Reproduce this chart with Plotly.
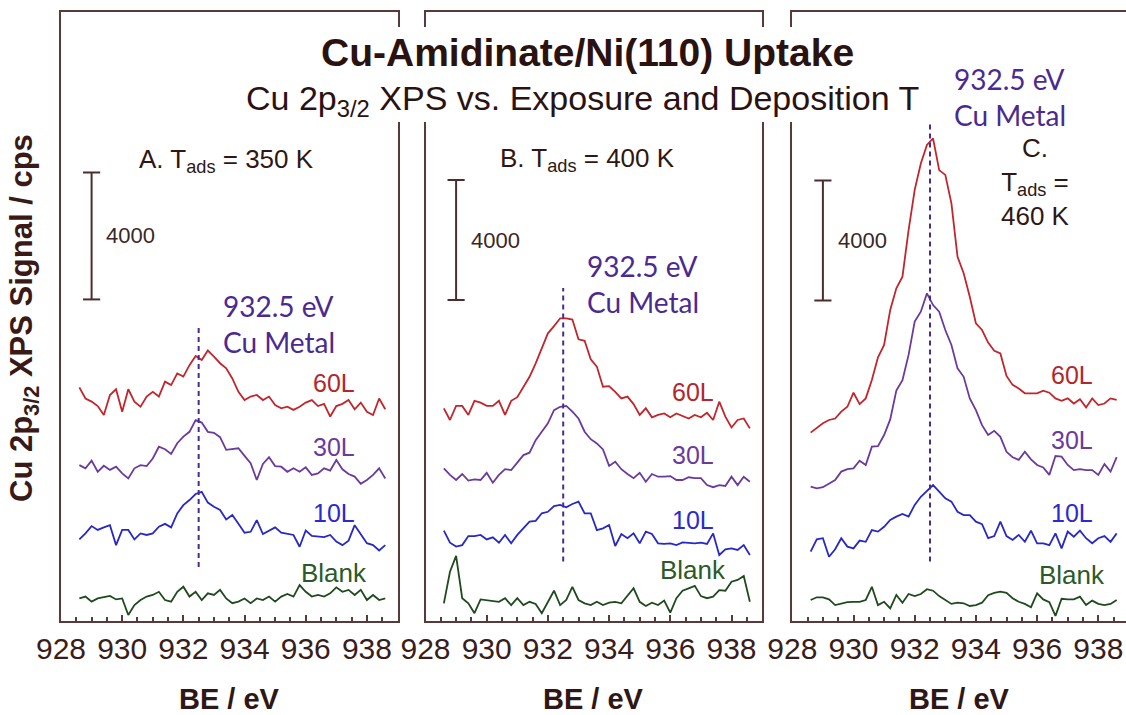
import plotly.graph_objects as go

# ---------------------------------------------------------------------------
# Cu 2p3/2 XPS spectra (binding energy grid, eV) and stacked signals (cps)
# ---------------------------------------------------------------------------
BE = [928.6, 928.8, 929.0, 929.2, 929.4, 929.6, 929.8, 930.0, 930.2, 930.4,
      930.6, 930.8, 931.0, 931.2, 931.4, 931.6, 931.8, 932.0, 932.2, 932.4,
      932.6, 932.8, 933.0, 933.2, 933.4, 933.6, 933.8, 934.0, 934.2, 934.4,
      934.6, 934.8, 935.0, 935.2, 935.4, 935.6, 935.8, 936.0, 936.2, 936.4,
      936.6, 936.8, 937.0, 937.2, 937.4, 937.6, 937.8, 938.0, 938.2, 938.4,
      938.6]

# A. T_ads = 350 K
A_60L = [7360, 7010, 6910, 6770, 6490, 7120, 7300, 6590, 7300, 6910,
         6750, 7070, 7220, 7070, 7540, 7430, 7800, 7700, 8060, 8350,
         8220, 8520, 8330, 8120, 7960, 7640, 7220, 6960, 7070, 7120,
         6960, 7070, 6800, 6700, 6750, 6650, 6750, 6880, 6960, 6770,
         6840, 6440, 6770, 6840, 6960, 6670, 6880, 6590, 6490, 7010,
         6670]
A_30L = [4910, 4810, 5050, 4700, 4890, 4760, 4860, 4650, 4490, 4810,
         4910, 4880, 5120, 5490, 5410, 5260, 5600, 5810, 5960, 6330,
         6250, 5960, 5930, 5790, 5390, 5410, 5440, 5200, 4970, 4440,
         4950, 5160, 4880, 4860, 4700, 4810, 4700, 4840, 4600, 4650,
         4810, 4740, 5070, 4780, 4630, 4550, 4320, 4440, 4600, 4810,
         4490]
A_10L = [2570, 2760, 2990, 2870, 2950, 3020, 2390, 2870, 2870, 2570,
         2760, 2710, 2760, 2970, 3060, 2950, 3390, 3650, 3810, 4000,
         4070, 3730, 3600, 3500, 3200, 3340, 3060, 2780, 2810, 3180,
         2740, 2850, 2950, 2780, 2740, 2710, 2340, 2850, 2680, 2660,
         2640, 2710, 2500, 2390, 2530, 3020, 2740, 2450, 2390, 2220,
         2390]
A_BLANK = [710, 770, 610, 710, 750, 790, 680, 710, 190, 500,
           660, 770, 820, 920, 660, 610, 920, 1080, 770, 920,
           660, 870, 820, 980, 710, 560, 610, 710, 560, 710,
           660, 770, 610, 770, 850, 770, 1130, 920, 770, 820,
           770, 870, 1060, 920, 980, 820, 980, 660, 820, 660,
           710]

# B. T_ads = 400 K
B_60L = [7090, 6700, 7170, 7170, 6870, 7340, 7280, 7170, 7170, 7340,
         6870, 7340, 7460, 7810, 8140, 8590, 9090, 9590, 9830, 10090,
         10090, 10050, 9390, 9340, 8720, 8480, 7810, 7830, 7640, 7420,
         7480, 7230, 6870, 7090, 6790, 6870, 6920, 6790, 6920, 6830,
         6750, 6870, 6790, 6940, 6700, 7310, 6810, 6450, 6700, 6750,
         6420]
B_30L = [5090, 4870, 4700, 4900, 4680, 4720, 4700, 4940, 4610, 4870,
         5060, 5030, 5280, 5530, 5610, 6030, 6310, 6590, 7030, 7140,
         7170, 6980, 6750, 6310, 6060, 5920, 5720, 5170, 5310, 5060,
         4900, 4760, 4940, 4640, 4900, 4810, 4810, 4830, 4700, 4700,
         4790, 4760, 4760, 4530, 4460, 4530, 4500, 4810, 4530, 4810,
         4640]
B_10L = [3010, 2610, 2480, 2530, 2830, 2830, 2870, 2720, 2790, 2610,
         2870, 2590, 2870, 3090, 3310, 3340, 3590, 3640, 3830, 3870,
         3790, 3900, 3980, 3590, 3590, 3030, 3090, 3200, 2500, 2900,
         2760, 2920, 2590, 2980, 2900, 2590, 2570, 2590, 2530, 2620,
         2610, 2590, 2610, 2570, 2920, 2200, 2390, 2420, 2370, 2530,
         2200]
B_BLANK = [590, 1640, 2170, 760, 590, 260, 720, 700, 680, 640,
           760, 530, 760, 530, 640, 570, 260, 640, 1010, 530,
           700, 1140, 700, 590, 530, 640, 530, 610, 640, 590,
           830, 1090, 640, 500, 610, 530, 680, 280, 760, 1010,
           1090, 1170, 830, 760, 810, 1030, 1010, 1310, 1370, 1500,
           640]

# C. T_ads = 460 K
C_60L = [6280, 6450, 6590, 6700, 6750, 6980, 7140, 7610, 7230, 7420,
         8030, 8790, 9200, 10370, 11090, 11480, 13030, 14370, 15250, 15870,
         16090, 15030, 14870, 13920, 12140, 11590, 10810, 9920, 9700, 9280,
         9010, 8920, 8170, 7870, 7750, 7590, 7590, 7590, 7680, 7610,
         7420, 7340, 7420, 7250, 7390, 7120, 7420, 7200, 7250, 7420,
         7370]
C_30L = [4480, 4420, 4460, 4590, 4700, 4980, 5060, 5090, 5340, 5200,
         5810, 5830, 6200, 6720, 7680, 8030, 8870, 9980, 10310, 10920,
         10530, 10310, 9700, 9200, 8420, 8140, 7420, 7030, 6530, 6200,
         6340, 6140, 5640, 5460, 5370, 5640, 5390, 5200, 5120, 4870,
         5500, 5480, 5200, 5030, 5060, 5030, 5030, 4870, 5230, 4980,
         5460]
C_10L = [2310, 2720, 2760, 2140, 2390, 2760, 2480, 2420, 2680, 2640,
         3030, 2980, 3140, 3370, 3480, 3570, 3480, 3870, 4140, 4340,
         4530, 4310, 4090, 3980, 3640, 3530, 3530, 3310, 3230, 2760,
         2830, 3310, 2830, 2700, 2870, 2640, 3010, 2590, 2590, 2530,
         2920, 2420, 2980, 2810, 3010, 2760, 2590, 2760, 2830, 2640,
         2920]
C_BLANK = [700, 790, 790, 720, 530, 570, 630, 640, 640, 700,
           1140, 530, 640, 420, 870, 610, 900, 830, 900, 1060,
           1010, 830, 700, 570, 610, 590, 500, 530, 610, 860,
           940, 980, 940, 760, 640, 570, 460, 920, 720, 630,
           170, 740, 720, 720, 810, 530, 680, 570, 530, 570,
           700]

EXPOSURES = ["60L", "30L", "10L", "Blank"]
TEMPERATURES = [350, 400, 460]
CU_METAL_BE = 932.5
SCALE_CPS = 4000
XTICKS = [928, 930, 932, 934, 936, 938]

# ---------------------------------------------------------------------------
# Styling
# ---------------------------------------------------------------------------
W, H = 1126, 715
SANS = "Liberation Sans, Arial, Helvetica, sans-serif"
HUMANIST = "Lato, Open Sans, sans-serif"
FRAME = "#583a3a"
INK = "#2e1714"
DASH_COLOR = "#4b2a90"
LINE_COLORS = {"60L": "#c0262c", "30L": "#6a3b9c", "10L": "#2828c4", "Blank": "#1e4a1e"}
TEXT_COLORS = {"60L": "#b3262c", "30L": "#6a3b9c", "10L": "#2a2ad0", "Blank": "#2a5a2a"}


def px_x(x):
    return x / W


def px_y(y):
    return 1 - y / H


Y_DOMAIN = [px_y(621), px_y(12)]

panels = [
    dict(letter="A", series=[A_60L, A_30L, A_10L, A_BLANK], dom=(61, 397.5),
         xr=[928, 939], yr=[0, 19184], mirror=True, bar0=10130,
         dash=(1700, 9230), note_y=9370, lab_x=936.92,
         lab_y=[7500, 5480, 3400, 1510], title_xy=(933.42, 14520)),
    dict(letter="B", series=[B_60L, B_30L, B_10L, B_BLANK], dom=(425.5, 762.1),
         xr=[928, 939], yr=[0, 20300], mirror=True, bar0=10700,
         dash=(1980, 11100), note_y=11220, lab_x=936.74,
         lab_y=[7630, 5530, 3370, 1700], title_xy=(933.28, 15370)),
    dict(letter="C", series=[C_60L, C_30L, C_10L, C_BLANK], dom=(792.3, 1126),
         xr=[928, 938.905], yr=[0, 20300], mirror=False, bar0=10680,
         dash=(1980, 16630), note_y=17470, lab_x=937.15,
         lab_y=[8200, 6030, 3600, 1530], title_xy=(935.96, 14630)),
]

fig = go.Figure()
annotations = []
layout_axes = {}

for i, p in enumerate(panels):
    n = "" if i == 0 else str(i + 1)
    xref, yref = "x" + n, "y" + n

    # spectra, bottom (Blank) first
    for name, ys in reversed(list(zip(EXPOSURES, p["series"]))):
        fig.add_trace(go.Scatter(
            x=BE, y=ys, mode="lines", xaxis=xref, yaxis=yref,
            line=dict(color=LINE_COLORS[name], width=1.8), hoverinfo="skip"))

    # Cu metal reference line
    fig.add_trace(go.Scatter(
        x=[CU_METAL_BE, CU_METAL_BE], y=list(p["dash"]), mode="lines",
        xaxis=xref, yaxis=yref,
        line=dict(color=DASH_COLOR, width=2, dash="5px,4px"), hoverinfo="skip"))

    # intensity scale bar
    b0, b1 = p["bar0"], p["bar0"] + SCALE_CPS
    fig.add_trace(go.Scatter(
        x=[928.72, 929.28, None, 929.0, 929.0, None, 928.72, 929.28],
        y=[b0, b0, None, b0, b1, None, b1, b1], mode="lines",
        xaxis=xref, yaxis=yref, line=dict(color="#4a2e2e", width=2),
        hoverinfo="skip"))
    annotations.append(dict(
        x=929.42, y=(b0 + b1) / 2, xref=xref, yref=yref, text=str(SCALE_CPS),
        showarrow=False, xanchor="left", yanchor="middle",
        font=dict(family=SANS, size=22, color="#3a2826")))

    # exposure labels
    for name, ly in zip(EXPOSURES, p["lab_y"]):
        annotations.append(dict(
            x=p["lab_x"], y=ly, xref=xref, yref=yref, text=name,
            showarrow=False, xanchor="center", yanchor="middle",
            font=dict(family=SANS, size=26 if name == "Blank" else 25,
                      color=TEXT_COLORS[name])))

    # Cu metal note
    annotations.append(dict(
        x=933.22, y=p["note_y"], xref=xref, yref=yref,
        text=f"{CU_METAL_BE} eV<br>Cu Metal", showarrow=False,
        xanchor="left", yanchor="middle", align="left",
        font=dict(family=HUMANIST, size=28, color=DASH_COLOR)))

    # panel title
    t = TEMPERATURES[i]
    if p["letter"] == "C":
        ptxt = f"C.<br>T<sub>ads</sub> =<br>{t} K"
    else:
        ptxt = f"{p['letter']}. T<sub>ads</sub> = {t} K"
    annotations.append(dict(
        x=p["title_xy"][0], y=p["title_xy"][1], xref=xref, yref=yref,
        text=ptxt, showarrow=False, xanchor="center", yanchor="middle",
        align="center", font=dict(family=SANS, size=26, color=INK)))

    # x axis label
    annotations.append(dict(
        x=0.5, y=px_y(699), xref=xref + " domain", yref="paper",
        text="<b>BE / eV</b>", showarrow=False, xanchor="center",
        yanchor="middle", font=dict(family=SANS, size=29, color=INK)))

    layout_axes["xaxis" + n] = dict(
        domain=[px_x(p["dom"][0]), px_x(p["dom"][1])], range=p["xr"],
        anchor=yref, showline=True, linecolor=FRAME, linewidth=2, mirror=True,
        showgrid=False, zeroline=False, ticks="inside", ticklen=6,
        tickwidth=2, tickcolor=FRAME, tickvals=XTICKS,
        ticktext=[str(v) for v in XTICKS], ticklabelstandoff=0,
        tickfont=dict(family=SANS, size=30, color="#3a1d1a"),
        minor=dict(dtick=0.5, tick0=928, ticks="inside", ticklen=4,
                   tickwidth=1.5, tickcolor=FRAME),
        automargin=False, fixedrange=True)
    layout_axes["yaxis" + n] = dict(
        domain=Y_DOMAIN, range=p["yr"], anchor=xref, showline=True,
        linecolor=FRAME, linewidth=2, mirror=p["mirror"], showgrid=False,
        zeroline=False, showticklabels=False, ticks="", automargin=False,
        fixedrange=True)

# figure title block on a white band that interrupts the panel frames
annotations.append(dict(
    x=px_x(587), y=px_y(52), xref="paper", yref="paper",
    text="<b>Cu-Amidinate/Ni(110) Uptake</b>", showarrow=False,
    xanchor="center", yanchor="middle",
    font=dict(family=SANS, size=39, color="#2a1210")))
annotations.append(dict(
    x=px_x(582), y=px_y(100), xref="paper", yref="paper",
    text="Cu 2p<sub>3/2</sub> XPS vs. Exposure and Deposition T",
    showarrow=False, xanchor="center", yanchor="middle",
    font=dict(family=SANS, size=34, color="#2a1210")))

# y axis title
annotations.append(dict(
    x=px_x(24), y=px_y(318), xref="paper", yref="paper",
    text="<b>Cu 2p<sub>3/2</sub> XPS Signal / cps</b>", showarrow=False,
    textangle=-90, xanchor="center", yanchor="middle",
    font=dict(family=SANS, size=31, color="#3a1a16")))

shapes = [dict(
    type="rect", xref="paper", yref="paper", layer="above",
    x0=px_x(232), x1=px_x(935), y0=px_y(122), y1=px_y(27),
    fillcolor="white", line=dict(width=0))]

fig.update_layout(
    width=W, height=H, autosize=False,
    margin=dict(l=0, r=0, t=0, b=0, pad=0, autoexpand=False),
    paper_bgcolor="white", plot_bgcolor="white",
    showlegend=False, annotations=annotations, shapes=shapes,
    **layout_axes)

fig.write_html("out.html")
